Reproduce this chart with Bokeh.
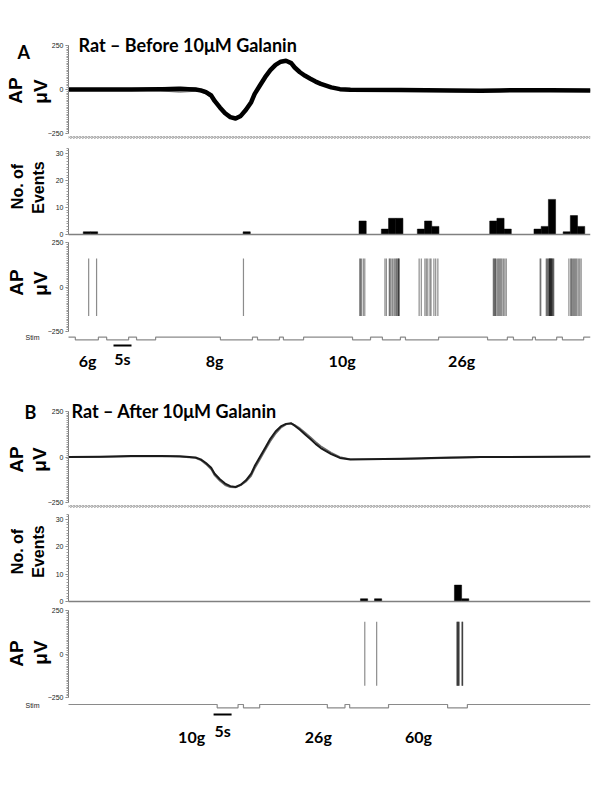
from math import pi
from bokeh.plotting import figure
from bokeh.models import Range1d, FixedTicker, Label
from bokeh.layouts import column
from bokeh.embed import file_html
from bokeh.resources import INLINE

# ---------------- data ----------------
# averaged spike waveform (time in ms within the spike window, amplitude in uV)
wave_t_ms = [0.00, 0.18, 0.36, 0.53, 0.64, 0.73, 0.76, 0.79, 0.82, 0.84,
             0.87, 0.90, 0.93, 0.96, 0.99, 1.02, 1.05, 1.07, 1.10, 1.13,
             1.16, 1.19, 1.22, 1.25, 1.28, 1.30, 1.33, 1.36, 1.39, 1.42,
             1.45, 1.51, 1.56, 1.62, 1.91, 2.20, 2.37, 2.48, 2.77, 3.00]
wave_A = [0, 0, 0, 2, 3, 0, -5, -15, -34, -65,
          -102, -135, -157, -165, -150, -115, -72, -25, 23, 70,
          110, 140, 158, 163, 150, 125, 98, 78, 61, 45,
          32, 12, 2, -2, -3, -6, -7, -5, -4, -5]
wave_A_hi = [3, 2, 4, 10, 16, 8, 2, -6, -24, -55,
             -92, -128, -152, -162, -145, -105, -60, -12, 36, 82,
             120, 148, 164, 166, 152, 128, 100, 80, 64, 48,
             36, 16, 6, 2, 0, -2, -4, -2, -1, -3]
wave_A_lo = [-3, -2, -3, -8, -16, -10, -14, -26, -46, -78,
             -112, -143, -162, -168, -156, -124, -84, -38, 10, 58,
             100, 132, 152, 160, 148, 120, 92, 72, 56, 40,
             26, 6, -4, -8, -8, -12, -14, -10, -8, -8]
wave_B = [0, 2, 5, 6, 4, -3, -13, -33, -59, -92,
          -122, -146, -160, -165, -152, -128, -92, -50, 0, 50,
          100, 140, 168, 182, 185, 172, 150, 124, 99, 72,
          49, 16, -5, -14, -10, -3, 0, 0, 2, 3]
wave_B_gray = [-2, 0, 3, 4, 2, -6, -18, -40, -68, -102,
               -132, -155, -166, -168, -156, -136, -104, -64, -14, 36,
               86, 128, 160, 178, 184, 176, 158, 134, 110, 84,
               60, 24, 0, -12, -12, -6, -2, -2, 0, 1]

# histogram of events (2 s bins), time in s
bin_width_s = 2.0
hist_A_left = [4.1, 6.1, 48.5, 80.7, 86.9, 88.9, 90.9, 96.9, 98.9, 100.9,
               117.0, 119.0, 121.0, 129.3, 131.3, 133.3, 137.4, 139.4, 141.4]
hist_A_count = [1, 1, 1, 5, 2, 6, 6, 2, 5, 3,
                5, 6, 2, 2, 3, 13, 1, 7, 3]
hist_B_left = [81.1, 85.0, 107.2, 109.2]
hist_B_count = [1, 1, 6, 1]

# spike times (s)
spikes_A = [5.6, 7.8, 48.6,
            80.9, 81.1, 81.4, 81.9, 82.3,
            87.9, 88.3, 89.1, 89.3, 89.6, 90.0, 90.4, 90.7,
            91.0, 91.2, 91.5, 91.6, 91.7, 91.9,
            97.4, 98.0, 99.0, 99.4, 99.8, 100.4, 100.7, 101.5, 102.0, 102.6,
            118.0, 118.2, 118.4, 118.6, 118.8, 119.2, 119.5, 119.8, 120.1,
            120.4, 120.8, 121.2, 121.6,
            131.0, 131.2, 132.7, 132.9, 133.1, 133.4, 133.5, 133.6, 133.7,
            133.8, 133.9, 134.0, 134.1, 134.2, 134.3, 134.5, 134.6, 134.8,
            139.0, 139.5, 139.7, 140.0, 140.3, 140.6, 140.9, 141.2,
            141.6, 142.0, 142.4]
spikes_B = [82.3, 85.6, 107.9, 108.0, 108.1, 108.3, 108.4, 108.5, 109.3, 109.4, 109.5]
spike_A_top, spike_A_bot = 160, -163
spike_B_top, spike_B_bot = 185, -182

# stimulus on-periods (s)
stim_A_start = [1.9, 10.6, 18.9, 42.2, 52.5, 59.7, 78.9, 87.2, 93.6, 116.4, 123.6, 129.7, 137.2]
stim_A_end = [8.3, 16.7, 24.2, 51.1, 58.6, 65.3, 83.9, 92.2, 102.8, 121.9, 128.9, 135.6, 143.1]
stim_B_start = [41.3, 48.6, 71.9, 78.1, 105.3]
stim_B_end = [47.1, 53.1, 76.8, 88.9, 110.8]

force_A = ["6g", "8g", "10g", "26g"]
force_A_t = [5.3, 40.6, 76.0, 109.2]
force_B = ["10g", "26g", "60g"]
force_B_t = [34.2, 69.4, 97.2]
scalebar_A_t = 12.5
scalebar_B_t = 40.3
scalebar_len_s = 5.0
t_end = 145.0
wave_end_ms = 3.0

# ---------------- layout helpers ----------------
W = 592          # figure width (page x 0 .. 592)
PX_AX = 68       # page x of the y axis (time / data zero)
PX_R = 590       # page x of the right end of the data area

TXT = "Lato"
AX = "Liberation Sans"


def lin(v1, y1, v2, y2):
    k = (v1 - v2) / (y2 - y1)
    return lambda py: v1 - (py - y1) * k


def make(top, bot, v1, y1, v2, y2, xmax):
    yv = lin(v1, y1, v2, y2)

    def xv(px):
        return (px - PX_AX) * xmax / (PX_R - PX_AX)

    p = figure(width=W, height=bot - top, x_range=Range1d(xv(0), xmax),
               y_range=Range1d(yv(bot), yv(top)), output_backend="svg",
               toolbar_location=None, x_axis_location=None,
               min_border_left=0, min_border_right=W - PX_R,
               min_border_top=0, min_border_bottom=0)
    p.grid.visible = False
    p.outline_line_color = None
    p.background_fill_color = "white"
    p.border_fill_color = "white"
    p.yaxis[0].fixed_location = 0
    return p, xv, yv


def style_axis(p, ticks, minors, bounds):
    ax = p.yaxis[0]
    ax.ticker = FixedTicker(ticks=ticks, minor_ticks=minors)
    ax.bounds = bounds
    ax.major_label_text_font_size = "7px"
    ax.major_label_text_font = AX
    ax.major_label_text_color = "#222222"
    ax.axis_line_color = "#7a7a7a"
    ax.major_tick_line_color = "#7a7a7a"
    ax.minor_tick_line_color = "#9a9a9a"
    ax.major_tick_out = 3
    ax.major_tick_in = 0
    ax.minor_tick_out = 2
    ax.minor_tick_in = 0
    ax.major_label_standoff = 2


def side_label(p, xv, yv, px, py, text, size="19px"):
    p.add_layout(Label(x=xv(px), y=yv(py), text=text, angle=pi / 2,
                       text_align="center", text_baseline="middle",
                       text_font=AX, text_font_style="bold",
                       text_font_size=size, text_color="black"))


def text_label(p, x, y, text, size="16px", align="left", font=TXT, bold=True):
    p.add_layout(Label(x=x, y=y, text=text, text_align=align,
                       text_baseline="alphabetic", text_font=font,
                       text_font_style="bold" if bold else "normal",
                       text_font_size=size, text_color="black"))


wave_ticks = [-250, 0, 250]
wave_minor = list(range(-250, 251, 10))
hist_ticks = [0, 10, 20, 30]
hist_minor = list(range(0, 33, 1))


def wave_fig(top, bot, y250, yneg, hatch_y, main, grays, main_w, main_c, gray_w, gray_c):
    p, xv, yv = make(top, bot, 250, y250, -250, yneg, wave_end_ms)
    style_axis(p, wave_ticks, wave_minor, (-250, 250))
    for g in grays:
        p.line(wave_t_ms, g, line_color=gray_c, line_width=gray_w)
    p.line(wave_t_ms, main, line_color=main_c, line_width=main_w, line_join="round")
    # hatched separator strip under the waveform
    p.quad(left=[0], right=[wave_end_ms], bottom=[yv(hatch_y + 1.6)], top=[yv(hatch_y - 1.6)],
           fill_color=None, line_color=None, hatch_pattern="/", hatch_color="#9a9a9a",
           hatch_scale=3, hatch_weight=1)
    return p, xv, yv


def hist_fig(top, bot, y30, y0, lefts, counts):
    p, xv, yv = make(top, bot, 30, y30, 0, y0, t_end)
    style_axis(p, hist_ticks, hist_minor, (0, 32))
    rights = [l + bin_width_s for l in lefts]
    p.quad(left=lefts, right=rights, bottom=[0] * len(lefts), top=counts,
           fill_color="black", line_color="black", line_width=0.5)
    p.segment(x0=[0], y0=[0], x1=[t_end], y1=[0], line_color="#808080", line_width=1.5)
    return p, xv, yv


def raster_fig(top, bot, y250, yneg, spikes, s_top, s_bot, stim_s, stim_e, st_hi, st_lo):
    p, xv, yv = make(top, bot, 250, y250, -250, yneg, t_end)
    style_axis(p, wave_ticks, wave_minor, (-250, 250))
    p.segment(x0=spikes, y0=[s_bot] * len(spikes), x1=spikes, y1=[s_top] * len(spikes),
              line_color="black", line_alpha=0.45, line_width=1.2)
    sv = lin(0, st_hi, -1, st_lo)
    p.extra_y_ranges = {"stim": Range1d(sv(bot), sv(top))}
    xs, ys = [0.0], [0]
    for s, e in zip(stim_s, stim_e):
        xs += [s, s, e, e]
        ys += [0, -1, -1, 0]
    xs.append(t_end)
    ys.append(0)
    p.line(xs, ys, y_range_name="stim", line_color="#8a8a8a", line_width=1.2)
    return p, xv, yv


# ---------------- panel A ----------------
fA1, xA1, yA1 = wave_fig(0, 140, 45, 133, 137, wave_A, [wave_A_hi, wave_A_lo],
                         4.5, "black", 1, "#8a8a8a")
text_label(fA1, xA1(17), yA1(51), "A", size="18px")
text_label(fA1, xA1(78), yA1(44), "Rat \u2013 Before 10\u03bcM Galanin", size="18px")
side_label(fA1, xA1, yA1, 15, 90, "AP")
side_label(fA1, xA1, yA1, 40, 91, "\u03bcV")

fA2, xA2, yA2 = hist_fig(140, 238, 153, 234, hist_A_left, hist_A_count)
side_label(fA2, xA2, yA2, 17, 186, "No. of", size="16px")
side_label(fA2, xA2, yA2, 38, 187, "Events", size="16px")

fA3, xA3, yA3 = raster_fig(238, 372, 242, 331, spikes_A, spike_A_top, spike_A_bot,
                           stim_A_start, stim_A_end, 336.7, 339.3)
side_label(fA3, xA3, yA3, 16, 282, "AP")
side_label(fA3, xA3, yA3, 40, 283, "\u03bcV")
fA3.add_layout(Label(x=xA3(25), y=yA3(337), text="Stim", text_align="left",
                     text_baseline="middle", text_font=AX, text_font_size="7px",
                     text_color="#222222"))
for lab, t in zip(force_A, force_A_t):
    text_label(fA3, t, yA3(360), lab, size="16px", align="center")
fA3.segment(x0=[scalebar_A_t], y0=[yA3(345)], x1=[scalebar_A_t + scalebar_len_s],
            y1=[yA3(345)], line_color="black", line_width=2)
text_label(fA3, scalebar_A_t + scalebar_len_s / 2, yA3(358), "5s", size="16px", align="center")

# ---------------- panel B ----------------
fB1, xB1, yB1 = wave_fig(372, 509, 411, 502, 506, wave_B, [wave_B_gray],
                         2, "#1a1a1a", 1.5, "#6a6a6a")
text_label(fB1, xB1(24), yB1(411), "B", size="18px")
text_label(fB1, xB1(71), yB1(410), "Rat \u2013 After 10\u03bcM Galanin", size="18px")
side_label(fB1, xB1, yB1, 16, 459, "AP")
side_label(fB1, xB1, yB1, 39, 459, "\u03bcV")

fB2, xB2, yB2 = hist_fig(509, 605, 519, 601, hist_B_left, hist_B_count)
side_label(fB2, xB2, yB2, 17, 551, "No. of", size="16px")
side_label(fB2, xB2, yB2, 38, 551, "Events", size="16px")

fB3, xB3, yB3 = raster_fig(605, 790, 610, 697, spikes_B, spike_B_top, spike_B_bot,
                           stim_B_start, stim_B_end, 704, 707.3)
side_label(fB3, xB3, yB3, 16, 653, "AP")
side_label(fB3, xB3, yB3, 40, 652, "\u03bcV")
fB3.add_layout(Label(x=xB3(25), y=yB3(705), text="Stim", text_align="left",
                     text_baseline="middle", text_font=AX, text_font_size="7px",
                     text_color="#222222"))
for lab, t in zip(force_B, force_B_t):
    text_label(fB3, t, yB3(736), lab, size="16px", align="center")
fB3.segment(x0=[scalebar_B_t], y0=[yB3(714)], x1=[scalebar_B_t + scalebar_len_s],
            y1=[yB3(714)], line_color="black", line_width=2)
text_label(fB3, scalebar_B_t + scalebar_len_s / 2, yB3(730), "5s", size="16px", align="center")

page = column(fA1, fA2, fA3, fB1, fB2, fB3, spacing=0)

with open("out.html", "w") as f:
    f.write(file_html(page, INLINE))
